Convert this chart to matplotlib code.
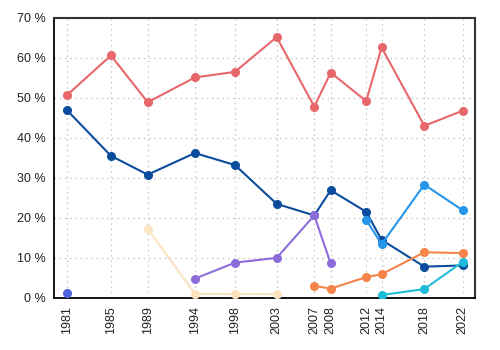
import matplotlib
matplotlib.use('Agg')
import matplotlib.pyplot as plt

# election dates as decimal years, and the year shown on the axis
year_labels = ['1981', '1985', '1989', '1994', '1998', '2003', '2007', '2008', '2012', '2014', '2018', '2022']
election_dates = [1981.25, 1985.86, 1989.69, 1994.61, 1998.78, 2003.12, 2007.04, 2008.75, 2012.45, 2014.05, 2018.5, 2022.5]

# vote share (%) per party, None where the party did not run
red = [50.6, 60.6, 48.9, 55.1, 56.5, 65.2, 47.8, 56.3, 49.2, 62.6, 43.0, 46.8]
dark_blue = [47.0, 35.5, 30.8, 36.2, 33.2, 23.5, 20.6, 26.9, 21.5, 14.5, 7.8, 8.1]
indigo = [1.3, None, None, None, None, None, None, None, None, None, None, None]
peach = [None, None, 17.3, 1.0, 1.0, 0.9, None, None, None, None, None, None]
purple = [None, None, None, 4.8, 8.8, 10.0, 20.6, 8.6, None, None, None, None]
orange = [None, None, None, None, None, None, 3.0, 2.3, 5.2, 5.9, 11.4, 11.2]
light_blue = [None, None, None, None, None, None, None, None, 19.5, 13.4, 28.3, 21.9]
cyan = [None, None, None, None, None, None, None, None, None, 0.7, 2.2, 9.0]

series = [
    (red, '#e8676b'),
    (dark_blue, '#0b4c9c'),
    (indigo, '#4f63e0'),
    (peach, '#fae3bf'),
    (purple, '#8c6cd8'),
    (orange, '#f5834a'),
    (light_blue, '#2696ea'),
    (cyan, '#1ebcd8'),
]

plt.rcParams['font.family'] = ['Liberation Sans', 'DejaVu Sans']

fig = plt.figure(figsize=(5, 3.5), dpi=100)
ax = fig.add_axes([0.108, 0.149, 0.842, 0.8])

for values, colour in series:
    xs = [d for d, v in zip(election_dates, values) if v is not None]
    ys = [v for v in values if v is not None]
    ax.plot(xs, ys, color=colour, linewidth=1.5, marker='o', markersize=5.5, zorder=3)

ax.set_xlim(1979.93, 2023.78)
ax.set_ylim(0, 70)
ax.set_xticks(election_dates)
ax.set_xticklabels(year_labels, rotation=90)
ax.set_yticks(range(0, 71, 10))
ax.set_yticklabels([f'{v} %' for v in range(0, 71, 10)])
ax.tick_params(length=0, labelsize=9, colors='#222222', pad=6)
ax.grid(True, color='#c4c4c4', linestyle=(0, (1.2, 3)), linewidth=0.9)

for side in ['left', 'bottom']:
    ax.spines[side].set_color('black')
    ax.spines[side].set_linewidth(1.3)
for side in ['top', 'right']:
    ax.spines[side].set_color('#333333')
    ax.spines[side].set_linewidth(1.5)

fig.savefig('out.png', dpi=100)
